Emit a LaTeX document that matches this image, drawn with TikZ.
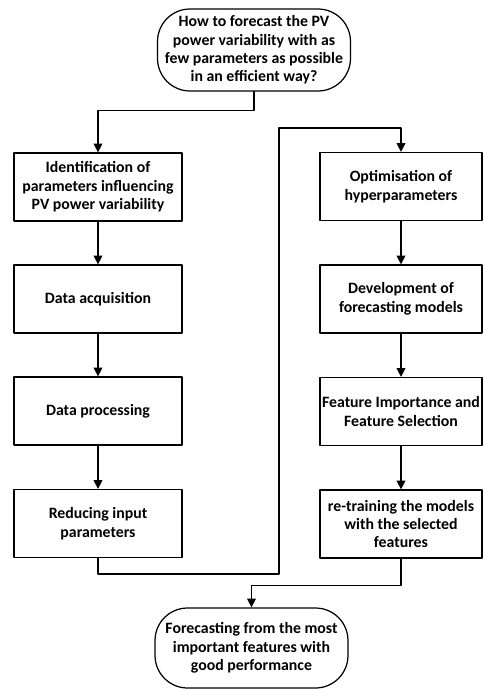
\documentclass[tikz,border=0pt]{standalone}
\usepackage{fontspec}
\setmainfont{Carlito}
\usetikzlibrary{arrows.meta}

\begin{document}
\begin{tikzpicture}[x=0.02cm, y=-0.02cm, line cap=round, line join=round,
	boxfont/.style={font=\fontsize{9}{10.5}\selectfont\bfseries},
	stepbox/.style={draw, line width=0.7pt, rectangle, align=center,
		minimum height=1.36cm, inner xsep=1pt, boxfont},
	termbox/.style={draw, line width=0.7pt, rounded corners=0.65cm, align=center,
		minimum width=3.86cm, inner xsep=1pt, boxfont},
	arr/.style={line width=0.7pt, -{Triangle[width=5pt,length=5pt]}}]
	
	% ----------------------------
	% 0) Canvas
	% ----------------------------
	\useasboundingbox (0,0) rectangle (483,689);
	
	% ----------------------------
	% 1) Start question
	% ----------------------------
	\node[termbox, minimum height=1.64cm] (q) at (254,50)
	{How to forecast the PV\\ power variability with as\\ few parameters as possible\\ in an efficient way?};
	
	% ----------------------------
	% 2) Left column
	% ----------------------------
	\def\xl{98}
	\node[stepbox, minimum width=3.36cm] (ident)  at (\xl,187)
	{Identification of\\ parameters influencing\\ PV power variability};
	\node[stepbox, minimum width=3.36cm] (acq)    at (\xl,299) {Data acquisition};
	\node[stepbox, minimum width=3.36cm] (proc)   at (\xl,411) {Data processing};
	\node[stepbox, minimum width=3.36cm] (reduce) at (\xl,523.5) {Reducing input\\ parameters};
	
	% ----------------------------
	% 3) Right column
	% ----------------------------
	\def\xr{401}
	\node[stepbox, minimum width=3.24cm] (optim)   at (\xr,186.5) {Optimisation of\\ hyperparameters};
	\node[stepbox, minimum width=3.24cm] (develop) at (\xr,299) {Development of\\ forecasting models};
	\node[stepbox, minimum width=3.24cm] (featsel) at (\xr,411.5) {Feature Importance and\\ Feature Selection};
	\node[stepbox, minimum width=3.24cm] (retrain) at (\xr,524) {re-training the models\\ with the selected\\ features};
	
	% ----------------------------
	% 4) Final outcome
	% ----------------------------
	\node[termbox, minimum height=1.6cm] (result) at (251.5,648)
	{Forecasting from the most\\ important features with\\ good performance};
	
	% ----------------------------
	% 5) Connectors
	% ----------------------------
	\coordinate (bendA) at (279,574);
	\coordinate (bendB) at (279,128);
	
	\draw[arr] (q.south) -- ++(0,19) -| (ident.north);
	\draw[arr] (ident) -- (acq);
	\draw[arr] (acq) -- (proc);
	\draw[arr] (proc) -- (reduce);
	\draw[arr] (reduce.south) |- (bendA) -- (bendB) -| (optim.north);
	\draw[arr] (optim) -- (develop);
	\draw[arr] (develop) -- (featsel);
	\draw[arr] (featsel) -- (retrain);
	\draw[arr] (retrain.south) -- ++(0,27) -| (result.north);
	
\end{tikzpicture}
\end{document}
